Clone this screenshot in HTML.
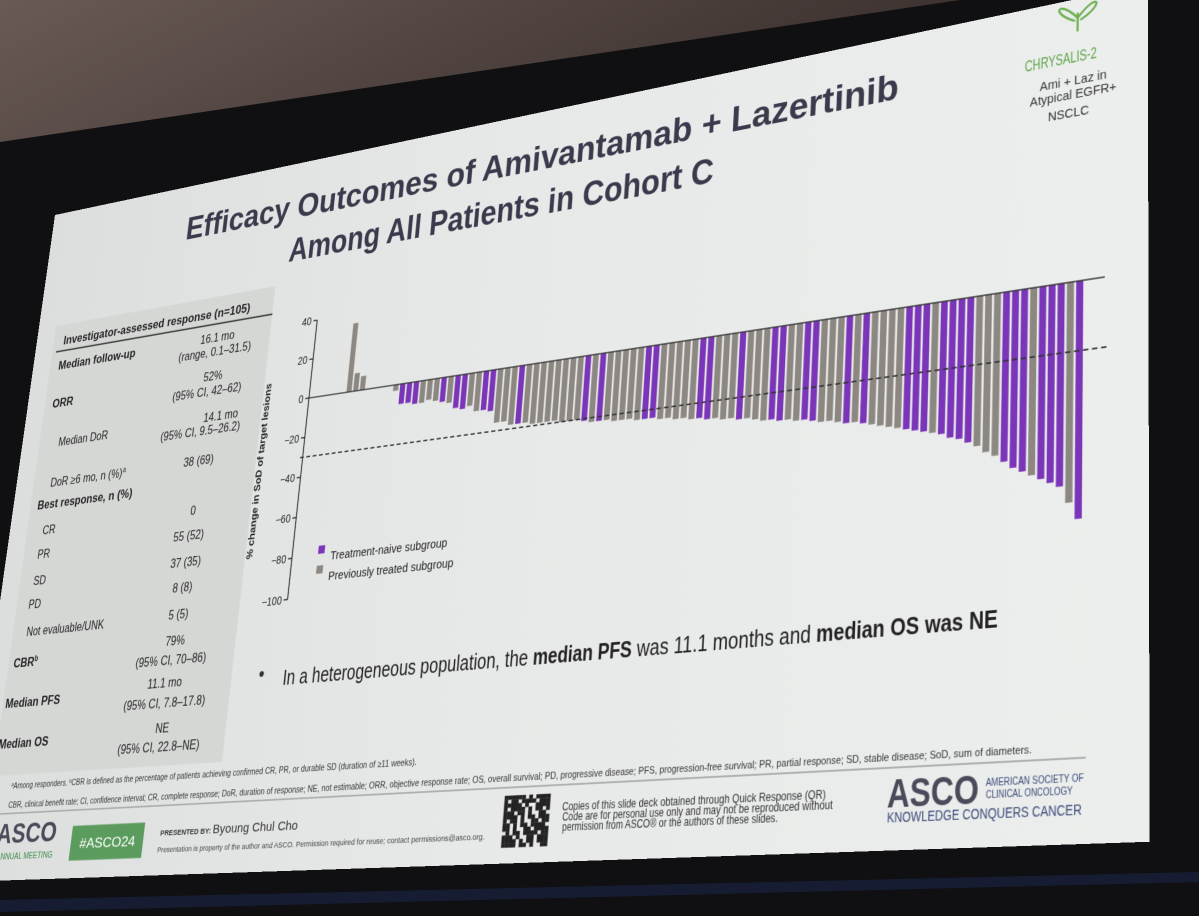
<!DOCTYPE html>
<html><head><meta charset="utf-8">
<style>
html,body{margin:0;padding:0;}
body{width:1199px;height:916px;overflow:hidden;background:#0f0f11;position:relative;font-family:"Liberation Sans",Arial,sans-serif;}
#bg{position:absolute;left:0;top:0;}
#slide{position:absolute;left:0;top:0;width:1600px;height:900px;transform-origin:0 0;}
#slide text{font-family:"Liberation Sans",Arial,sans-serif;}
</style></head>
<body>
<svg id="bg" width="1199" height="916">
  <defs>
    <linearGradient id="ceil" x1="0" y1="0" x2="1" y2="0.3">
      <stop offset="0" stop-color="#6a5a55"/><stop offset="1" stop-color="#3a302d"/>
    </linearGradient>
  </defs>
  <rect width="1199" height="916" fill="#101012"/>
  <polygon points="0,0 960,0 0,142" fill="url(#ceil)"/>
  <polygon points="0,900 1199,872 1199,882 0,912" fill="#1a2340" opacity="0.7"/>
</svg>

<div id="slide">
<svg width="1600" height="900" id="sv">
  <defs>
    <linearGradient id="sbg" x1="0" y1="0" x2="1" y2="0">
      <stop offset="0" stop-color="#dcdedd"/><stop offset="0.5" stop-color="#e7e9e8"/><stop offset="1" stop-color="#eceeed"/>
    </linearGradient>
  </defs>
  <rect width="1600" height="900" fill="url(#sbg)"/>
  <rect id="tbl" fill="#d5d7d5"/>
  <line id="tblline" stroke="#333" stroke-width="2"/>
  <line id="footrule" stroke="#9a9c9b" stroke-width="1.5"/>

  <text class="p" data-p="185,240,898,116" font-size="44" font-weight="bold" fill="#3a3a4c">Efficacy Outcomes of Amivantamab + Lazertinib</text>
  <text class="p" data-p="288,262,714,170" font-size="44" font-weight="bold" fill="#3a3a4c">Among All Patients in Cohort C</text>

  <g id="logo">
    <text class="p" data-p="1025,72,1097,62" font-size="18" fill="#5fa64a">CHRYSALIS-2</text>
    <text class="p" data-p="1040,91" font-size="14" fill="#333">Ami + Laz in</text>
    <text class="p" data-p="1030,107" font-size="14" fill="#333">Atypical EGFR+</text>
    <text class="p" data-p="1048,122" font-size="14" fill="#333">NSCLC</text>
  </g>

  <text class="p" data-p="63,345,250,311" font-size="17" font-weight="bold" fill="#222">Investigator-assessed response (n=105)</text>
  <text class="p" data-p="58,370" font-size="17" font-weight="bold" fill="#222">Median follow-up</text>
  <text class="p" data-p="200,344" font-size="16" fill="#222">16.1 mo</text>
  <text class="p" data-p="178,362" font-size="16" fill="#222">(range, 0.1–31.5)</text>
  <text class="p" data-p="52,408" font-size="17" font-weight="bold" fill="#222">ORR</text>
  <text class="p" data-p="203,382" font-size="16" fill="#222">52%</text>
  <text class="p" data-p="172,401" font-size="16" fill="#222">(95% CI, 42–62)</text>
  <text class="p" data-p="58,446" font-size="16" fill="#222">Median DoR</text>
  <text class="p" data-p="203,422" font-size="16" fill="#222">14.1 mo</text>
  <text class="p" data-p="160,441" font-size="16" fill="#222">(95% CI, 9.5–26.2)</text>
  <text class="p" data-p="50,487" font-size="16" fill="#222">DoR ≥6 mo, n (%)<tspan font-size="10" dy="-6">a</tspan></text>
  <text class="p" data-p="183,467" font-size="16" fill="#222">38 (69)</text>
  <text class="p" data-p="37,510" font-size="17" font-weight="bold" fill="#222">Best response, n (%)</text>
  <text class="p" data-p="42,535" font-size="16" fill="#222">CR</text>
  <text class="p" data-p="190,515" font-size="16" fill="#222">0</text>
  <text class="p" data-p="37,559" font-size="16" fill="#222">PR</text>
  <text class="p" data-p="173,542" font-size="16" fill="#222">55 (52)</text>
  <text class="p" data-p="33,585" font-size="16" fill="#222">SD</text>
  <text class="p" data-p="170,568" font-size="16" fill="#222">37 (35)</text>
  <text class="p" data-p="28,609" font-size="16" fill="#222">PD</text>
  <text class="p" data-p="172,593" font-size="16" fill="#222">8 (8)</text>
  <text class="p" data-p="26,636" font-size="16" fill="#222">Not evaluable/UNK</text>
  <text class="p" data-p="168,620" font-size="16" fill="#222">5 (5)</text>
  <text class="p" data-p="13,668" font-size="17" font-weight="bold" fill="#222">CBR<tspan font-size="10" dy="-6">b</tspan></text>
  <text class="p" data-p="165,646" font-size="16" fill="#222">79%</text>
  <text class="p" data-p="135,668" font-size="16" fill="#222">(95% CI, 70–86)</text>
  <text class="p" data-p="5,708" font-size="17" font-weight="bold" fill="#222">Median PFS</text>
  <text class="p" data-p="147,689" font-size="16" fill="#222">11.1 mo</text>
  <text class="p" data-p="123,711" font-size="16" fill="#222">(95% CI, 7.8–17.8)</text>
  <text class="p" data-p="-2,749" font-size="17" font-weight="bold" fill="#222">Median OS</text>
  <text class="p" data-p="155,733" font-size="16" fill="#222">NE</text>
  <text class="p" data-p="117,754" font-size="16" fill="#222">(95% CI, 22.8–NE)</text>

  <g id="chart"></g>
  <text id="ytitle" font-size="14" font-weight="bold" fill="#222" text-anchor="middle">% change in SoD of target lesions</text>
  <text class="p" data-p="330,560" font-size="15" fill="#222">Treatment-naive subgroup</text>
  <text class="p" data-p="328,580" font-size="15" fill="#222">Previously treated subgroup</text>

  <text class="p" data-p="258,681" font-size="26" fill="#333">•</text>
  <text class="p" data-p="282,685,998,621" font-size="26" fill="#222">In a heterogeneous population, the <tspan font-weight="bold">median PFS</tspan> was 11.1 months and <tspan font-weight="bold">median OS was NE</tspan></text>

  <text class="p" data-p="11,789,417,760" font-size="11" fill="#333"><tspan font-size="7" dy="-3">a</tspan><tspan dy="3">Among responders. </tspan><tspan font-size="7" dy="-3">b</tspan><tspan dy="3">CBR is defined as the percentage of patients achieving confirmed CR, PR, or durable SD (duration of ≥11 weeks).</tspan></text>
  <text class="p" data-p="8,808,1032,748" font-size="11" fill="#333">CBR, clinical benefit rate; CI, confidence interval; CR, complete response; DoR, duration of response; NE, not estimable; ORR, objective response rate; OS, overall survival; PD, progressive disease; PFS, progression-free survival; PR, partial response; SD, stable disease; SoD, sum of diameters.</text>

  <text class="p" data-p="-4,844,56,838" font-size="36" font-weight="bold" fill="#4a4a58">ASCO</text>
  <text class="p" data-p="-4,860" font-size="11" fill="#3a8a4a">ANNUAL MEETING</text>
  <rect id="tagbox" fill="#5b9b5e"/>
  <text class="p" data-p="79,848,135,843" font-size="16" fill="#ffffff">#ASCO24</text>
  <text class="p" data-p="160,836,298,825" font-size="15" fill="#333"><tspan font-size="9" font-weight="bold">PRESENTED BY: </tspan>Byoung Chul Cho</text>
  <text class="p" data-p="157,853,485,836" font-size="9" fill="#444">Presentation is property of the author and ASCO. Permission required for reuse; contact permissions@asco.org.</text>
  <g id="qr"></g>
  <text class="p" data-p="562,811,826,797" font-size="12" fill="#333">Copies of this slide deck obtained through Quick Response (QR)</text>
  <text class="p" data-p="562,821,833,807" font-size="12" fill="#333">Code are for personal use only and may not be reproduced without</text>
  <text class="p" data-p="562,831,778,820" font-size="12" fill="#333">permission from ASCO® or the authors of these slides.</text>
  <text class="p" data-p="887,808,979,800" font-size="40" font-weight="bold" fill="#4a4a5a">ASCO</text>
  <text class="p" data-p="986,786,1084,780" font-size="11" fill="#3b4a78">AMERICAN SOCIETY OF</text>
  <text class="p" data-p="986,798,1073,793" font-size="11" fill="#3b4a78">CLINICAL ONCOLOGY</text>
  <text class="p" data-p="887,823,1082,815" font-size="14" fill="#3b4a78">KNOWLEDGE CONQUERS CANCER</text>
</svg>
</div>

<script>
const tickValues = [40, 20, 0, -20, -40, -60, -80, -100];
const tickLabels = ["40", "20", "0", "\u221220", "\u221240", "\u221260", "\u221280", "\u2212100"];
const preValues = [35, 9, 7];
const preGroups = ["g", "g", "g"];
const barValues = [
  -3,-10,-10,-11,-11,-10,-11,-12,-13,-16,-17,-16,
  -19,-19,-20,-26,-26,-28,-28,-28,-29,-29,-29,-29,-30,-30,-30,
  -31,-32,-32,-32,-33,-33,-33,-34,-34,-34,-35,-35,
  -36,-36,-37,-37,-38,-38,-39,-39,-40,-40,
  -41,-42,-42,-43,-43,-44,-44,-45,-46,-46,
  -47,-48,-48,-49,-50,-51,-52,-53,
  -54,-55,-56,-57,-58,-60,-61,-63,
  -65,-68,-70,-73,-76,-78,-80,-82,-84,-86,
  -93,-100
];
const barGroups = ("gpppgggpgp"+"pggppgggpg"+"gggggggpgp"+"gggggppggg"+"ggppgggpgg"+
  "gppggppggg"+"pgpggggppp"+"gppppgggpp"+"pgpppgp").split("");
const referenceLine = -30;
const groupColors = {p: "#7a35b8", g: "#8d8782"};

const W = 1600, H = 900;
const Q = [[55,215],[1148,-16],[1150,842],[-40,882]];
function sq2quad(q){
  const [x0,y0]=q[0],[x1,y1]=q[1],[x2,y2]=q[2],[x3,y3]=q[3];
  const dx1=x1-x2,dx2=x3-x2,dx3=x0-x1+x2-x3,dy1=y1-y2,dy2=y3-y2,dy3=y0-y1+y2-y3;
  const den=dx1*dy2-dx2*dy1;
  const g=(dx3*dy2-dx2*dy3)/den, h=(dx1*dy3-dx3*dy1)/den;
  const a=x1-x0+g*x1, b=x3-x0+h*x3, c=x0, d=y1-y0+g*y1, e=y3-y0+h*y3, f=y0;
  return {a:a/W,b:b/H,c:c,d:d/W,e:e/H,f:f,g:g/W,h:h/H};
}
const M = sq2quad(Q);
document.getElementById('slide').style.transform =
  `matrix3d(${M.a},${M.d},0,${M.g},${M.b},${M.e},0,${M.h},0,0,1,0,${M.c},${M.f},0,1)`;
function inv(X,Y){
  const A=M.a-M.g*X, B=M.b-M.h*X, C=M.d-M.g*Y, D=M.e-M.h*Y;
  const r1=X-M.c, r2=Y-M.f, det=A*D-B*C;
  return {x:(r1*D-B*r2)/det, y:(A*r2-C*r1)/det};
}
document.querySelectorAll('text.p').forEach(t=>{
  const v=t.getAttribute('data-p').split(',').map(Number);
  const s=inv(v[0],v[1]);
  t.setAttribute('x', s.x.toFixed(1));
  t.setAttribute('y', s.y.toFixed(1));
  if(v.length>=4){
    const e=inv(v[2],v[3]);
    t.setAttribute('textLength', Math.max(10,e.x-s.x).toFixed(1));
    t.setAttribute('lengthAdjust','spacingAndGlyphs');
  }
});
function setRect(el,x1,y1,x2,y2){
  const p=inv(x1,y1), q=inv(x2,y2);
  el.setAttribute('x',p.x); el.setAttribute('y',p.y);
  el.setAttribute('width',q.x-p.x); el.setAttribute('height',q.y-p.y);
}
setRect(document.getElementById('tbl'),56,326,222,762);
(function(){
  const l=document.getElementById('tblline'); const p=inv(56,352), q=inv(272,318);
  l.setAttribute('x1',p.x);l.setAttribute('y1',p.y);l.setAttribute('x2',q.x);l.setAttribute('y2',p.y);
  const f=document.getElementById('footrule'); const a=inv(0,814), b=inv(1086,756);
  f.setAttribute('x1',a.x);f.setAttribute('y1',a.y);f.setAttribute('x2',b.x);f.setAttribute('y2',a.y);
})();
setRect(document.getElementById('tagbox'),73,826,141,858);

(function(){
  const g=document.getElementById('qr'); const p=inv(505,796), q=inv(547,846);
  const n=13, cw=(q.x-p.x)/n, ch=(q.y-p.y)/n;
  const pat=[1,1,1,0,1,0,1,1,0,1,1,1,1,0,1,1,0,1,0,0,1,1,0,1];
  let k=0;
  for(let r=0;r<n;r++)for(let c=0;c<n;c++){
    const fin=(r<3&&c<3)||(r<3&&c>=n-3)||(r>=n-3&&c<3);
    const on=fin?!(r%(n-1)===1&&c%(n-1)===1):pat[(k++)%pat.length];
    if(!on)continue;
    const e=document.createElementNS('http://www.w3.org/2000/svg','rect');
    
    
    e.setAttribute('x',p.x+c*cw);e.setAttribute('y',p.y+r*ch);
    e.setAttribute('width',cw+0.3);e.setAttribute('height',ch+0.3);e.setAttribute('fill','#222');
    g.appendChild(e);
  }
})();

const NS='http://www.w3.org/2000/svg';
const chart=document.getElementById('chart');
const z0=inv(309,398), m100=inv(303,598);
const axisX=z0.x, yZero=z0.y, unit=(m100.y-z0.y)/100;
function yScale(v){ return yZero - v*unit; }
const xFirst=inv(349,392).x, xLast=inv(1080,282).x;
const totalSlots=preValues.length+4+barValues.length;
const pitch=(xLast-xFirst)/(totalSlots-1);
function xScale(slot){ return xFirst + slot*pitch; }
const zeroEnd=inv(1105,278).x;
function mk(tag,attrs){ const e=document.createElementNS(NS,tag); for(const k in attrs)e.setAttribute(k,attrs[k]); chart.appendChild(e); return e; }

const yAxis=mk('line',{x1:axisX,x2:axisX,y1:yScale(tickValues[0]),y2:yScale(tickValues[tickValues.length-1]),stroke:'#222','stroke-width':1.5});


tickValues.forEach((v,i)=>{
  const tk=mk('line',{x1:axisX-6,x2:axisX,y1:yScale(v),y2:yScale(v),stroke:'#222','stroke-width':1.5});
  
  
  const tl=mk('text',{x:axisX-9,y:yScale(v)+5,'font-size':14,'text-anchor':'end',fill:'#222'});
  
  
  tl.textContent=tickLabels[i];
});
function bar(slot,v,grp){
  const y1=yScale(Math.max(v,0)), y2=yScale(Math.min(v,0));
  const r=mk('rect',{x:xScale(slot)-pitch*0.38,y:y1,width:pitch*0.76,height:Math.max(0.5,y2-y1),fill:groupColors[grp]});
  
  
}
preValues.forEach((v,i)=>bar(i,v,preGroups[i]));
barValues.forEach((v,i)=>bar(i+preValues.length+4,v,barGroups[i]));
const zl=mk('line',{x1:axisX,x2:zeroEnd,y1:yScale(0),y2:yScale(0),stroke:'#333','stroke-width':1.6});


const dl=mk('line',{x1:inv(300,458).x,x2:inv(1108,343).x,y1:yScale(referenceLine),y2:yScale(referenceLine),stroke:'#333','stroke-width':1.6,'stroke-dasharray':'6 4'});


[['p',318,554],['g',316,574]].forEach(s=>{
  const p=inv(s[1],s[2]);
  const r=mk('rect',{x:p.x,y:p.y-10,width:10,height:10,fill:groupColors[s[0]]});
  
  
});
(function(){
  const p=inv(262,470), t=document.getElementById('ytitle');
  t.setAttribute('transform',`translate(${p.x},${p.y}) rotate(-90)`);
})();
(function(){
  const g=document.getElementById('logo'); const c=inv(1078,6);
  const e=document.createElementNS(NS,'path');
  
  
  e.setAttribute('d',`M${c.x},${c.y+14} C${c.x-24},${c.y-14} ${c.x-32},${c.y+4} ${c.x-3},${c.y+17} M${c.x},${c.y+14} C${c.x+24},${c.y-14} ${c.x+32},${c.y+4} ${c.x+3},${c.y+17} M${c.x},${c.y+8} L${c.x},${c.y+30}`);
  e.setAttribute('fill','none');e.setAttribute('stroke','#6bb04f');e.setAttribute('stroke-width','2.5');
  g.appendChild(e);
})();
</script>
</body></html>
